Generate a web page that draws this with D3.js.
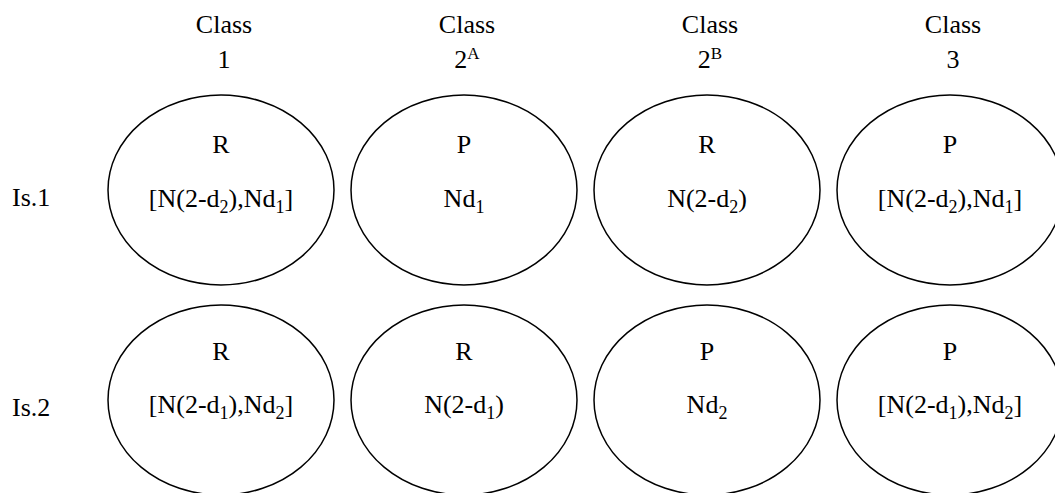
<!DOCTYPE html>
<meta charset="utf-8">
<script src="https://cdn.jsdelivr.net/npm/d3@7"></script>
<style>
body{margin: 0; background: #fff;}
text {font-family: "Liberation Serif", "Times New Roman", serif; font-size: 26px; fill: #000;}
.cell {fill: none; stroke: #000; stroke-width: 1.5px;}
</style>
<div id="vis"></div>
<script>

// class headers: number + superscript
var classes = ["1", "2A", "2B", "3"];
var classNum = ["1", "2", "2", "3"];
var classSup = ["", "A", "B", ""];

// islands (rows)
var islands = ["Is.1", "Is.2"];

// strategy letters, by row then by class
var letters = [
  ["R", "P", "R", "P"],
  ["R", "R", "P", "P"]
];

// payoffs; "_x" means subscript x
var payoffs = [
  ["[N(2-d_2),Nd_1]", "Nd_1", "N(2-d_2)", "[N(2-d_2),Nd_1]"],
  ["[N(2-d_1),Nd_2]", "N(2-d_1)", "Nd_2", "[N(2-d_1),Nd_2]"]
];

var w = 1055, h = 493;
var rx = 113, ry = 95;

var svg = d3.select("#vis").append("svg")
    .attr("width", w)
    .attr("height", h);

var x = d3.scalePoint().domain(classes).range([221, 950]);
var y = d3.scalePoint().domain(islands).range([190, 400]);

// headers
var head = svg.selectAll(".head")
  .data(classes)
  .enter().append("g")
    .attr("class", "head")
    .attr("transform", function(d) { return "translate(" + x(d) + ",0)"; });

head.append("text")
    .attr("text-anchor", "middle")
    .attr("x", 3)
    .attr("y", 33)
    .text("Class");

var num = head.append("text")
    .attr("text-anchor", "middle")
    .attr("x", 3)
    .attr("y", 68);
num.append("tspan").text(function(d, i) { return classNum[i]; });
num.filter(function(d, i) { return classSup[i] != ""; })
  .append("tspan")
    .attr("dy", -9)
    .style("font-size", "17px")
    .text(function(d) { return classSup[classes.indexOf(d)]; });

// row labels
svg.selectAll(".row-label")
  .data(islands)
  .enter().append("text")
    .attr("class", "row-label")
    .attr("x", 12)
    .attr("y", function(d) { return y(d) + 16; })
    .text(function(d) { return d; });

// cells
var cells = [];
islands.forEach(function(isl, r) {
  classes.forEach(function(c, k) {
    cells.push({isl: isl, cls: c, letter: letters[r][k], payoff: payoffs[r][k], r: r});
  });
});

var cell = svg.selectAll(".cellg")
  .data(cells)
  .enter().append("g")
    .attr("class", "cellg")
    .attr("transform", function(d) { return "translate(" + x(d.cls) + "," + y(d.isl) + ")"; });

cell.append("ellipse")
    .attr("class", "cell")
    .attr("rx", rx)
    .attr("ry", ry);

cell.append("text")
    .attr("text-anchor", "middle")
    .attr("y", function(d) { return d.r == 0 ? -37 : -40; })
    .text(function(d) { return d.letter; });

cell.append("text")
    .attr("text-anchor", "middle")
    .attr("y", function(d) { return d.r == 0 ? 17 : 13; })
    .each(function(d) {
      var t = d3.select(this);
      var parts = d.payoff.split(/(_\d)/);
      var shift = 0;
      parts.forEach(function(p) {
        if (!p) return;
        if (p[0] == "_") {
          t.append("tspan").attr("dy", 6 - shift).style("font-size", "18px").text(p.slice(1));
          shift = 6;
        } else {
          t.append("tspan").attr("dy", -shift).text(p);
          shift = 0;
        }
      });
    });

</script>
